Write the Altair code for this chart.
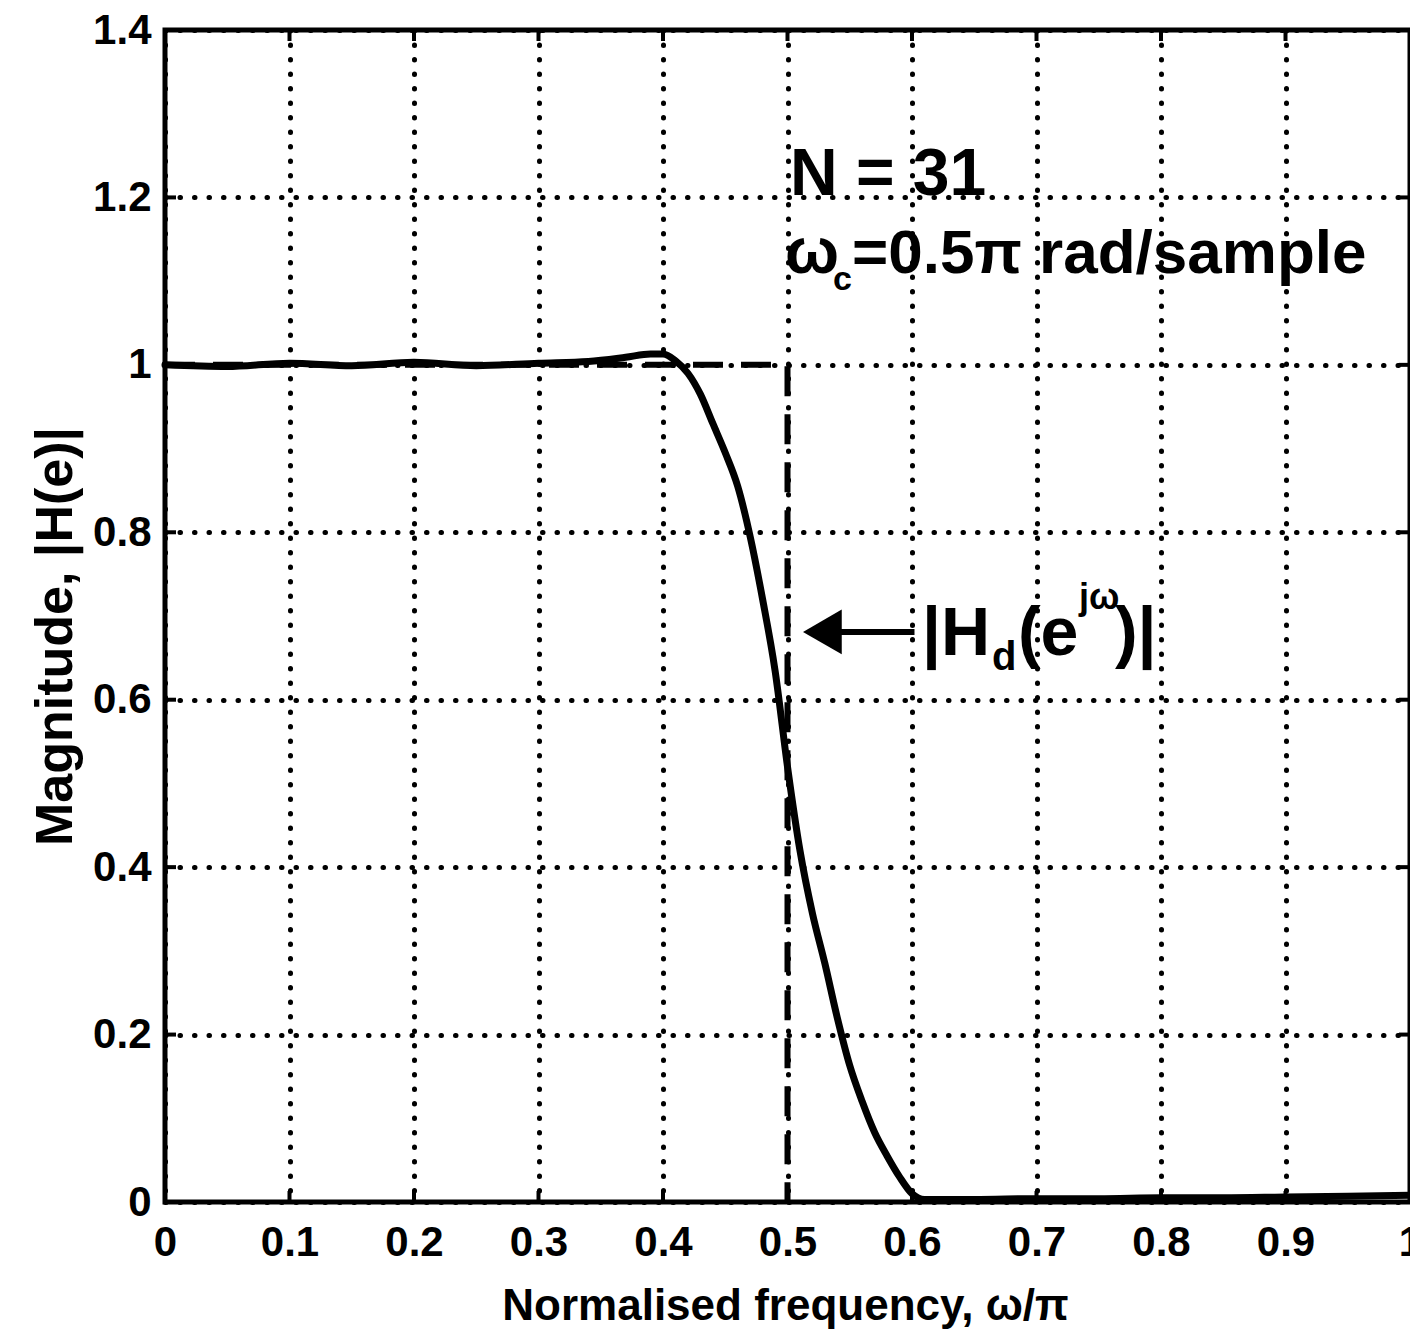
import altair as alt
import pandas as pd

# ---- data ----
freq = [0.0, 0.05, 0.1, 0.15, 0.2, 0.25, 0.3, 0.34, 0.37, 0.39, 0.40, 0.41, 0.42,
        0.43, 0.44, 0.45, 0.46, 0.47, 0.48, 0.49, 0.50, 0.51, 0.52, 0.53, 0.54,
        0.55, 0.56, 0.57, 0.58, 0.59, 0.60, 0.61, 0.65, 0.7, 0.75, 0.8, 0.85,
        0.9, 0.95, 1.0]
mag = [1.0, 0.998, 1.002, 0.999, 1.003, 0.999, 1.002, 1.004, 1.009, 1.013, 1.013,
       1.005, 0.99, 0.965, 0.93, 0.895, 0.855, 0.795, 0.72, 0.635, 0.52, 0.42,
       0.345, 0.285, 0.22, 0.163, 0.12, 0.083, 0.055, 0.03, 0.01, 0.003, 0.003,
       0.004, 0.004, 0.005, 0.005, 0.006, 0.007, 0.008]
ideal_f = [0.0, 0.5, 0.5]
ideal_m = [1.0, 1.0, 0.0]
x_ticks = [0.0, 0.1, 0.2, 0.3, 0.4, 0.5, 0.6, 0.7, 0.8, 0.9, 1.0]
y_ticks = [0.0, 0.2, 0.4, 0.6, 0.8, 1.0, 1.2, 1.4]

arrow_from = 0.602
arrow_to = 0.528
arrow_level = 0.681

W, H = 1245, 1172
FONT = "Liberation Sans, Arial, sans-serif"

df = pd.DataFrame({"f": freq, "m": mag})
ideal = pd.DataFrame({"f": ideal_f, "m": ideal_m, "o": [0, 1, 2]})
xt = pd.DataFrame({"f": x_ticks})
yt = pd.DataFrame({"m": y_ticks})

xs = alt.Scale(domain=[0, 1], nice=False, zero=False)
ys = alt.Scale(domain=[0, 1.4], nice=False)

x_axis = alt.Axis(values=x_ticks, format="~g", grid=True, gridDash=[0.5, 14],
                  gridWidth=5, gridColor="black", gridCap="round", gridOpacity=1,
                  ticks=False, domain=False, labelFont=FONT, labelFontSize=42,
                  labelFontWeight="bold", labelColor="black", labelPadding=20,
                  labelFlush=False,
                  title="Normalised frequency, ω/π", titleFont=FONT,
                  titleFontSize=44, titleFontWeight="bold", titleColor="black",
                  titleX=620, titleY=117, titleBaseline="alphabetic")
y_axis = alt.Axis(values=y_ticks, format="~g", grid=True, gridDash=[0.5, 14],
                  gridWidth=5, gridColor="black", gridCap="round", gridOpacity=1,
                  ticks=False, domain=False, labelFont=FONT, labelFontSize=42,
                  labelFontWeight="bold", labelColor="black", labelPadding=14,
                  labelFlush=False,
                  title="Magnitude, |H(e)|", titleFont=FONT, titleFontSize=52,
                  titleFontWeight="bold", titleColor="black",
                  titleX=-110, titleY=606, titleBaseline="middle", titleAngle=-90)


def X(field):
    return alt.X(field, type="quantitative", scale=xs, axis=x_axis)


def Y(field):
    return alt.Y(field, type="quantitative", scale=ys, axis=y_axis)


curve = alt.Chart(df).mark_line(color="black", strokeWidth=7, strokeCap="round",
                                interpolate="monotone").encode(x=X("f"), y=Y("m"))

ideal_line = alt.Chart(ideal).mark_line(color="black", strokeWidth=6,
                                        strokeDash=[30, 18]).encode(
    x=X("f"), y=Y("m"), order="o:O")

tick_len = 11
bottom_ticks = alt.Chart(xt).mark_rule(color="black", strokeWidth=4).encode(
    x=X("f"), y=alt.value(H), y2=alt.value(H - tick_len))
top_ticks = alt.Chart(xt).mark_rule(color="black", strokeWidth=4).encode(
    x=X("f"), y=alt.value(0), y2=alt.value(tick_len))
left_ticks = alt.Chart(yt).mark_rule(color="black", strokeWidth=4).encode(
    y=Y("m"), x=alt.value(0), x2=alt.value(tick_len))
right_ticks = alt.Chart(yt).mark_rule(color="black", strokeWidth=4).encode(
    y=Y("m"), x=alt.value(W - tick_len), x2=alt.value(W))

arrow_df = pd.DataFrame({"f": [arrow_to], "b": [arrow_from], "m": [arrow_level]})
arrow_shaft = alt.Chart(arrow_df).mark_rule(color="black", strokeWidth=6).encode(
    x=X("f"), x2="b:Q", y=Y("m"))
arrow_head = alt.Chart(arrow_df).mark_point(shape="triangle-left", filled=True,
                                            color="black", size=2000, opacity=1).encode(
    x=X("f"), y=Y("m"))


def txt(text, x, y, size, dx=0, dy=0):
    d = pd.DataFrame({"f": [x], "m": [y], "t": [text]})
    return alt.Chart(d).mark_text(align="left", baseline="alphabetic", font=FONT,
                                  fontSize=size, fontWeight="bold", color="black",
                                  dx=dx, dy=dy).encode(
        x=X("f"), y=Y("m"), text="t:N")


texts = [
    txt("N = 31", 0.502, 1.203, 66),
    txt("ω", 0.498, 1.110, 64),
    txt("c", 0.498, 1.110, 34, dx=48, dy=17),
    txt("=0.5π rad/sample", 0.498, 1.110, 62, dx=67),
    txt("|H", 0.608, 0.653, 68),
    txt("d", 0.608, 0.653, 40, dx=70, dy=15),
    txt("(e", 0.608, 0.653, 68, dx=96),
    txt("jω", 0.608, 0.653, 36, dx=157, dy=-46),
    txt(")|", 0.608, 0.653, 68, dx=193),
]

chart = alt.layer(
    curve, ideal_line, bottom_ticks, top_ticks, left_ticks, right_ticks,
    arrow_shaft, arrow_head, *texts
).properties(
    width=W, height=H,
    autosize=alt.AutoSizeParams(type="none"),
    padding={"left": 157, "top": 22, "right": 0, "bottom": 131},
    background="white",
).configure_view(stroke="black", strokeWidth=5)

chart.save("out.html", embed_options={"renderer": "svg", "actions": False})
